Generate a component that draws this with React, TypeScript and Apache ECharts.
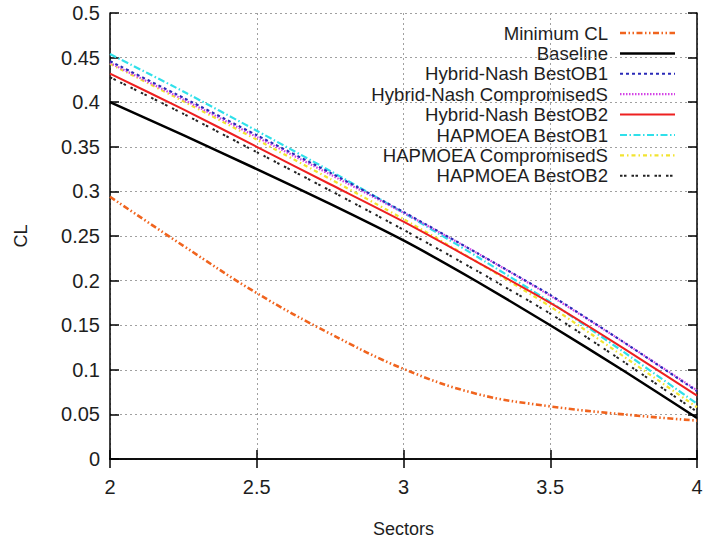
import React, { useEffect, useRef } from "react";
import * as echarts from "echarts";

const sectors = [2, 2.25, 2.5, 2.75, 3, 3.25, 3.5, 3.75, 4];

const seriesNames = [
  "Minimum CL",
  "Baseline",
  "Hybrid-Nash BestOB1",
  "Hybrid-Nash CompromisedS",
  "Hybrid-Nash BestOB2",
  "HAPMOEA BestOB1",
  "HAPMOEA CompromisedS",
  "HAPMOEA BestOB2",
];

const minimumCL = [0.294, 0.239, 0.186, 0.1405, 0.101, 0.073, 0.059, 0.05, 0.043];
const baseline = [0.4, 0.363, 0.325, 0.286, 0.245, 0.199, 0.15, 0.099, 0.046];
const hnBestOB1 = [0.446, 0.405, 0.363, 0.321, 0.277, 0.231, 0.184, 0.131, 0.076];
const hnCompromisedS = [0.444, 0.403, 0.361, 0.319, 0.276, 0.231, 0.183, 0.131, 0.077];
const hnBestOB2 = [0.432, 0.392, 0.35, 0.308, 0.266, 0.221, 0.175, 0.124, 0.071];
const hapBestOB1 = [0.454, 0.412, 0.368, 0.323, 0.276, 0.227, 0.176, 0.12, 0.062];
const hapCompromisedS = [0.443, 0.401, 0.358, 0.314, 0.269, 0.221, 0.171, 0.115, 0.058];
const hapBestOB2 = [0.428, 0.387, 0.344, 0.301, 0.257, 0.211, 0.163, 0.109, 0.053];

const seriesValues = [
  minimumCL,
  baseline,
  hnBestOB1,
  hnCompromisedS,
  hnBestOB2,
  hapBestOB1,
  hapCompromisedS,
  hapBestOB2,
];

const styles = [
  { color: "#f0641e", dash: [6, 2.5, 1.5, 2.5, 1.5, 2.5], width: 2.6, smooth: 0.4 },
  { color: "#000000", dash: null, width: 2.5, smooth: 0.2 },
  { color: "#2a2ab8", dash: [3, 3], width: 2, smooth: 0.2 },
  { color: "#d444e6", dash: [1.5, 1.5], width: 2.2, smooth: 0.2 },
  { color: "#ee2020", dash: null, width: 2, smooth: 0.2 },
  { color: "#30e0ea", dash: [7, 2.5, 1.5, 2.5], width: 2.2, smooth: 0.2 },
  { color: "#f2e430", dash: [4, 3, 1.5, 3], width: 2.2, smooth: 0.2 },
  { color: "#222222", dash: [2.5, 1.5, 2.5, 5], width: 2, smooth: 0.2 },
];

const FONT = "'Liberation Sans', Arial, Helvetica, sans-serif";
const TEXT = "#1e1e1e";

export default function App() {
  const ref = useRef<HTMLDivElement>(null);

  useEffect(() => {
    if (!ref.current) return;
    const chart = echarts.init(ref.current, null, { renderer: "svg" });

    const series = seriesNames.map((name, i) => ({
      name,
      type: "line",
      data: sectors.map((x, j) => [x, seriesValues[i][j]]),
      showSymbol: false,
      symbol: "none",
      smooth: styles[i].smooth,
      z: 10 - i,
      lineStyle: {
        color: styles[i].color,
        width: styles[i].width,
        type: styles[i].dash ? styles[i].dash : "solid",
      },
    }));

    const legendTop = 33;
    const legendGap = 20.4;
    const legendGraphics: any[] = [];
    seriesNames.forEach((name, i) => {
      const y = legendTop + i * legendGap;
      legendGraphics.push({
        type: "text",
        x: 608,
        y,
        style: {
          text: name,
          fill: TEXT,
          font: `18.6px ${FONT}`,
          align: "right",
          verticalAlign: "middle",
        },
      });
      legendGraphics.push({
        type: "line",
        shape: { x1: 620, y1: y, x2: 675, y2: y },
        style: {
          stroke: styles[i].color,
          lineWidth: styles[i].width,
          lineDash: styles[i].dash ? styles[i].dash : null,
        },
      });
    });

    const axisLine = { show: true, lineStyle: { color: "#000", width: 1.5 } };
    const axisTick = { show: true, inside: true, length: 9, lineStyle: { color: "#000", width: 1.5 } };

    chart.setOption({
      animation: false,
      backgroundColor: "#ffffff",
      grid: { left: 110, right: 9, top: 13, bottom: 88, show: false },
      xAxis: [
        {
          type: "value",
          min: 2,
          max: 4,
          interval: 0.5,
          name: "Sectors",
          nameLocation: "middle",
          nameGap: 61,
          nameTextStyle: { color: TEXT, fontSize: 18, fontFamily: FONT },
          axisLine,
          axisTick,
          axisLabel: { color: TEXT, fontSize: 20, fontFamily: FONT, margin: 18 },
          splitLine: { show: true, lineStyle: { color: "#a0a0a0", type: [2, 3], width: 1 } },
        },
        {
          type: "value",
          position: "top",
          min: 2,
          max: 4,
          interval: 0.5,
          axisLine,
          axisTick,
          axisLabel: { show: false },
          splitLine: { show: false },
        },
      ],
      yAxis: [
        {
          type: "value",
          min: 0,
          max: 0.5,
          interval: 0.05,
          name: "CL",
          nameLocation: "middle",
          nameGap: 80,
          nameTextStyle: { color: TEXT, fontSize: 18, fontFamily: FONT },
          axisLine,
          axisTick,
          axisLabel: { color: TEXT, fontSize: 20, fontFamily: FONT, margin: 10 },
          splitLine: { show: true, lineStyle: { color: "#a0a0a0", type: [2, 3], width: 1 } },
        },
        {
          type: "value",
          position: "right",
          min: 0,
          max: 0.5,
          interval: 0.05,
          axisLine,
          axisTick,
          axisLabel: { show: false },
          splitLine: { show: false },
        },
      ],
      series,
      graphic: legendGraphics,
    });

    return () => chart.dispose();
  }, []);

  return (
    <div
      ref={ref}
      style={{ position: "absolute", left: 0, top: 0, width: 706, height: 547, background: "#fff" }}
    />
  );
}
